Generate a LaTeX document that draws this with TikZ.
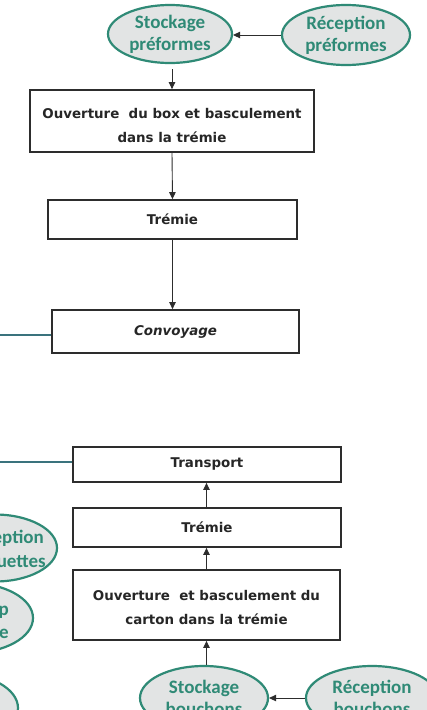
\documentclass[tikz,border=0pt]{standalone}
\usepackage{fontspec}
\setmainfont{DejaVu Sans}
\newfontfamily\ellfont{Carlito}
\usetikzlibrary{arrows.meta,shapes.geometric,calc}
\definecolor{tealc}{RGB}{47,138,118}
\definecolor{linec}{RGB}{58,115,125}
\definecolor{boxc}{RGB}{45,45,45}
\definecolor{ellfill}{RGB}{226,228,228}
\tikzset{
  procbox/.style={draw=boxc, line width=1.8pt, fill=white, align=center, inner sep=0pt,
    font=\fontsize{13.4}{24}\selectfont\bfseries, text=black!85},
  boxtext/.style={align=center, inner sep=0pt, font=\fontsize{13.4}{24}\selectfont\bfseries, text=black!85},
  ell/.style={ellipse, draw=tealc, line width=2.2pt, fill=ellfill, align=center, inner sep=0pt,
    font=\ellfont\bfseries\fontsize{19}{22}\selectfont, text=tealc},
  frag/.style={anchor=east, inner sep=0pt, text=tealc, font=\ellfont\bfseries\fontsize{19}{22}\selectfont},
  arr/.style={draw=boxc, line width=0.9pt, -{Triangle[length=7pt,width=6.5pt]}},
  tline/.style={draw=linec, line width=1.4pt}
}
\begin{document}
\begin{tikzpicture}[x=1pt,y=-1pt]
\useasboundingbox (0,0) rectangle (427,710);
\clip (0,0) rectangle (427,710);
\fill[white] (0,0) rectangle (427,710);
% top ellipses
\node[ell, minimum width=124pt, minimum height=58pt] (stockP) at (170,34) {Stockage\\préformes};
\node[ell, minimum width=128pt, minimum height=60pt] (recP) at (346,35) {Réception\\préformes};
% boxes top
\node[procbox, minimum width=284pt, minimum height=62pt] (box1) at (172,121) {};
\node[boxtext] (box1t) at ([yshift=-4pt]box1.center) {Ouverture \ du box et basculement\\dans la trémie};
\node[procbox, minimum width=249pt, minimum height=39pt] (box2) at (172.5,219.5) {Trémie};
\node[procbox, minimum width=247pt, minimum height=43pt, font=\fontsize{13.4}{24}\selectfont\bfseries\itshape] (box3) at (175.5,331.5) {Convoyage};
% boxes bottom
\node[procbox, minimum width=268pt, minimum height=35pt] (box4) at (207,464.5) {Transport};
\node[procbox, minimum width=268pt, minimum height=39pt] (box5) at (207,527.5) {Trémie};
\node[procbox, minimum width=267pt, minimum height=70pt] (box6) at (206.5,605) {};
\node[boxtext] (box6t) at ([yshift=-2pt]box6.center) {Ouverture \ et basculement du\\carton dans la trémie};
% bottom ellipses
\node[ell, minimum width=128pt, minimum height=64pt] (stockB) at (204,698) {Stockage\\bouchons};
\node[ell, minimum width=132pt, minimum height=64pt] (recB) at (372,698) {Réception\\bouchons};
% left partial ellipses
\node[ell, minimum width=124pt, minimum height=67pt] (etqR) at (-5,548) {};
\node[frag] (etqR1) at (44,538) {eption};
\node[frag] (etqR2) at (46,562) {uettes};
\node[ell, minimum width=126pt, minimum height=70pt] (etqS) at (-30,618) {};
\node[frag] (etqS1) at (9,612) {p};
\node[frag] (etqS2) at (9,634) {e};
\node[ell, minimum width=126pt, minimum height=70pt] (ell3) at (-45,708) {};
% connectors top
\draw[arr] (recP.west) -- (stockP.east |- recP.west);
\draw[arr, shorten <=5pt] (stockP.south -| box1.north) -- (box1.north);
\draw[arr] (box1.south) -- (box2.north);
\draw[arr] (box2.south) -- (box2.south |- box3.north);
% connectors bottom
\draw[arr] (stockB.north -| box6.south) -- (box6.south);
\draw[arr] (box6.north) -- (box5.south -| box6.north);
\draw[arr] (box5.north -| box6.north) -- (box4.south -| box6.north);
\draw[arr] (recB.west) -- (stockB.east |- recB.west);
% teal lines from left
\coordinate (L1) at (0,335);
\coordinate (L2) at (0,462);
\draw[tline] (L1) -- (L1 -| box3.west);
\draw[tline] (L2) -- (L2 -| box4.west);
\end{tikzpicture}
\end{document}
